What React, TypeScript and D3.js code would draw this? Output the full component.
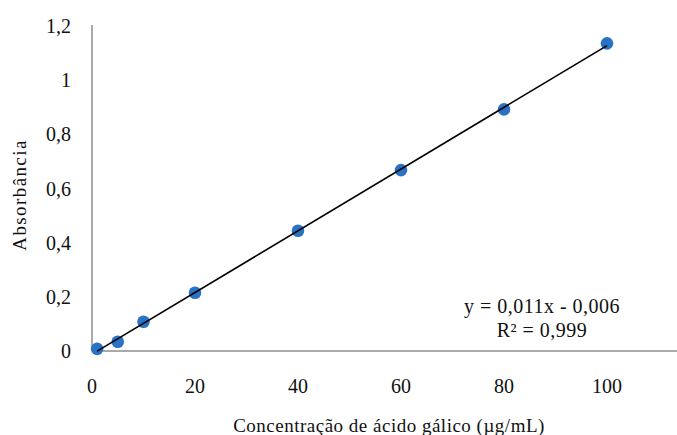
import React from "react";
import * as d3 from "d3";

// Gallic acid calibration: concentration (µg/mL) vs absorbance
const concentrations = [1, 5, 10, 20, 40, 60, 80, 100];
const absorbances = [0.008, 0.034, 0.108, 0.215, 0.444, 0.668, 0.892, 1.136];
const xTicks = [0, 20, 40, 60, 80, 100];
const yTicks = [0, 0.2, 0.4, 0.6, 0.8, 1, 1.2];
const equationLines = ["y = 0,011x - 0,006", "R² = 0,999"];

const W = 677;
const H = 435;
const FONT = "'Liberation Serif', 'Times New Roman', serif";

export default function App() {
  const x = d3.scaleLinear().domain([0, 120]).range([92, 710]);
  const y = d3.scaleLinear().domain([0, 1.2]).range([351, 26]);

  // least-squares trendline over the measured range
  const n = concentrations.length;
  const mx = d3.mean(concentrations)!;
  const my = d3.mean(absorbances)!;
  let sxy = 0;
  let sxx = 0;
  for (let i = 0; i < n; i++) {
    sxy += (concentrations[i] - mx) * (absorbances[i] - my);
    sxx += (concentrations[i] - mx) ** 2;
  }
  const slope = sxy / sxx;
  const intercept = my - slope * mx;
  const x0 = d3.min(concentrations)!;
  const x1 = d3.max(concentrations)!;
  const trend = d3.line<number>()
    .x((d) => x(d))
    .y((d) => y(slope * d + intercept))([x0, x1]);

  const fmt = (v: number) => String(+v.toFixed(1)).replace(".", ",");

  return (
    <svg
      width={W}
      height={H}
      style={{ position: "absolute", left: 0, top: 0, background: "#fff" }}
      fontFamily={FONT}
    >
      <defs>
        <filter id="soft" x="-50%" y="-50%" width="200%" height="200%">
          <feGaussianBlur stdDeviation="0.6" />
        </filter>
      </defs>

      {/* axes */}
      <line x1={x(0)} x2={x(0)} y1={y(1.2) - 1} y2={y(0)} stroke="#8c8c8c" strokeWidth={1.5} />
      <line x1={x(0)} x2={W} y1={y(0)} y2={y(0)} stroke="#8c8c8c" strokeWidth={1.5} />

      {yTicks.map((t) => (
        <text key={t} x={71} y={y(t)} dy="0.35em" textAnchor="end" fontSize={20} fill="#111">
          {fmt(t)}
        </text>
      ))}
      {xTicks.map((t) => (
        <text key={t} x={x(t)} y={386} dy="0.35em" textAnchor="middle" fontSize={20} fill="#111">
          {t}
        </text>
      ))}

      <text
        transform={`translate(19,195) rotate(-90)`}
        textAnchor="middle"
        dy="0.35em"
        fontSize={19}
        letterSpacing={1.4}
        fill="#111"
      >
        Absorbância
      </text>
      <text x={389} y={425} textAnchor="middle" dy="0.35em" fontSize={19} letterSpacing={0.5} fill="#111">
        Concentração de ácido gálico (µg/mL)
      </text>

      {/* data points */}
      <g filter="url(#soft)">
        {concentrations.map((c, i) => (
          <circle key={c} cx={x(c)} cy={y(absorbances[i])} r={6.3} fill="#2a72c4" />
        ))}
      </g>

      {/* trendline */}
      <path d={trend ?? ""} stroke="#000" strokeWidth={1.6} fill="none" />

      {equationLines.map((s, i) => (
        <text key={s} x={542} y={306 + i * 24} dy="0.35em" textAnchor="middle" fontSize={20} letterSpacing={0.5} fill="#111">
          {s}
        </text>
      ))}
    </svg>
  );
}
